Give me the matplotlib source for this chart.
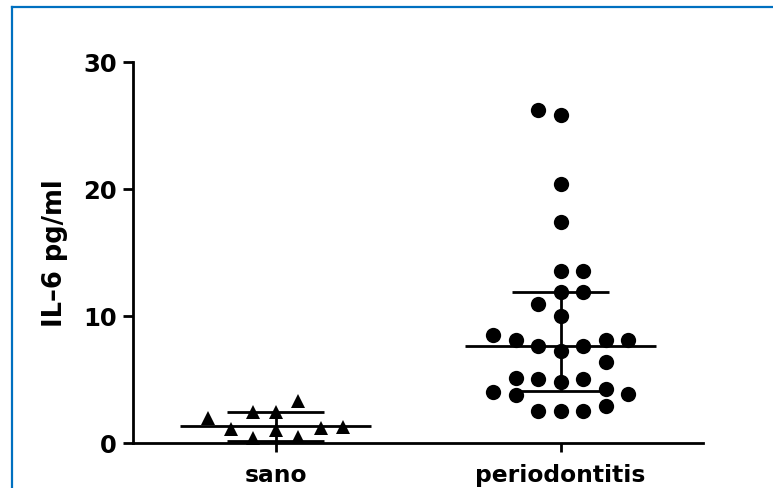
import matplotlib
matplotlib.use("Agg")
import matplotlib.pyplot as plt
from matplotlib.lines import Line2D
import numpy as np

# ---------------- data ----------------
groups = ["sano", "periodontitis"]
sano = [2.48, 2.48, 3.33, 1.0, 0.45, 0.38, 1.10, 1.17, 1.23, 1.93]
periodontitis = [25.83, 26.24, 20.39, 17.43, 13.57, 13.57, 10.03, 10.94,
                 11.92, 11.92, 7.27, 7.61, 7.61, 8.14, 8.14, 6.35, 8.50,
                 8.14, 4.78, 5.04, 5.04, 2.54, 2.54, 2.54, 5.12, 2.9, 3.8,
                 4.22, 3.99, 3.86]
center_line = [1.36, 7.61]
lower_bar = [0.18, 4.12]
upper_bar = [2.47, 11.92]
yticks = [0, 10, 20, 30]
ylabel = "IL\u20136 pg/ml"

# ---------------- figure ----------------
W, H = 773, 489
fig = plt.figure(figsize=(W / 100, H / 100), dpi=100)
ax = fig.add_axes([133 / W, 45 / H, 570 / W, 381 / H])
ax.set_xlim(-0.5, 1.5)
ax.set_ylim(0, 30)

bbox = ax.get_window_extent()
xppu = bbox.width / 2.0
yppu = bbox.height / 30.0


def swarm(values, dmin, slot):
    """greedy column-scatter layout: returns x offsets in pixels"""
    placed = []
    offs = []
    tie_neg = True
    for v in values:
        y = v * yppu

        def ok(k):
            x = k * slot
            return all((x - px) ** 2 + (y - py) ** 2 >= dmin ** 2 for px, py in placed)

        if ok(0):
            k = 0
        else:
            m = 1
            while True:
                a, b = ok(-m), ok(m)
                if a and b:
                    k = -m if tie_neg else m
                    tie_neg = not tie_neg
                    break
                if a:
                    k = -m
                    break
                if b:
                    k = m
                    break
                m += 1
        placed.append((k * slot, y))
        offs.append(k * slot)
    return np.array(offs)


slot_px = 22.5
series = [(sano, "^", 9.5, 18.0), (periodontitis, "o", 11, 16.5)]
for i, (vals, mk, ms, dmin) in enumerate(series):
    off = swarm(vals, dmin, slot_px) / xppu
    ax.plot(i + off, vals, linestyle="none", marker=mk, markersize=ms,
            color="black", markeredgewidth=0, clip_on=False, zorder=3)

lw = 2.0
for i in range(len(groups)):
    ax.plot([i - 0.335, i + 0.335], [center_line[i]] * 2, color="black",
            lw=lw, solid_capstyle="butt", zorder=4, clip_on=False)
    ax.plot([i - 0.17, i + 0.17], [upper_bar[i]] * 2, color="black",
            lw=lw, solid_capstyle="butt", zorder=4, clip_on=False)
    ax.plot([i - 0.17, i + 0.17], [lower_bar[i]] * 2, color="black",
            lw=lw, solid_capstyle="butt", zorder=4, clip_on=False)
    ax.plot([i, i], [lower_bar[i], upper_bar[i]], color="black",
            lw=lw, solid_capstyle="butt", zorder=4, clip_on=False)

# axes styling
for s in ["top", "right"]:
    ax.spines[s].set_visible(False)
for s in ["left", "bottom"]:
    ax.spines[s].set_linewidth(2.0)
ax.set_yticks(yticks)
ax.set_yticklabels([str(t) for t in yticks], fontfamily="DejaVu Sans",
                   fontweight="bold", fontsize=17.5)
ax.set_xticks(range(len(groups)))
ax.set_xticklabels(groups, fontfamily="DejaVu Sans", fontweight="bold",
                   fontsize=16.8)
ax.tick_params(axis="y", length=7.2, width=2.0, pad=4.3)
ax.tick_params(axis="x", length=6.5, width=2.0, pad=8)
ax.set_ylabel(ylabel, fontfamily="DejaVu Sans", fontweight="bold",
              fontsize=18.5)
ax.yaxis.set_label_coords(-0.114, 0.5)

# blue frame
blue = "#0070C0"
fig.add_artist(Line2D([12 / W, 12 / W], [0, 1 - 7.5 / H],
                      transform=fig.transFigure, color=blue, lw=1.6))
fig.add_artist(Line2D([12 / W, 1], [1 - 7.5 / H, 1 - 7.5 / H],
                      transform=fig.transFigure, color=blue, lw=1.6))

fig.savefig("out.png", dpi=100, facecolor="white")
